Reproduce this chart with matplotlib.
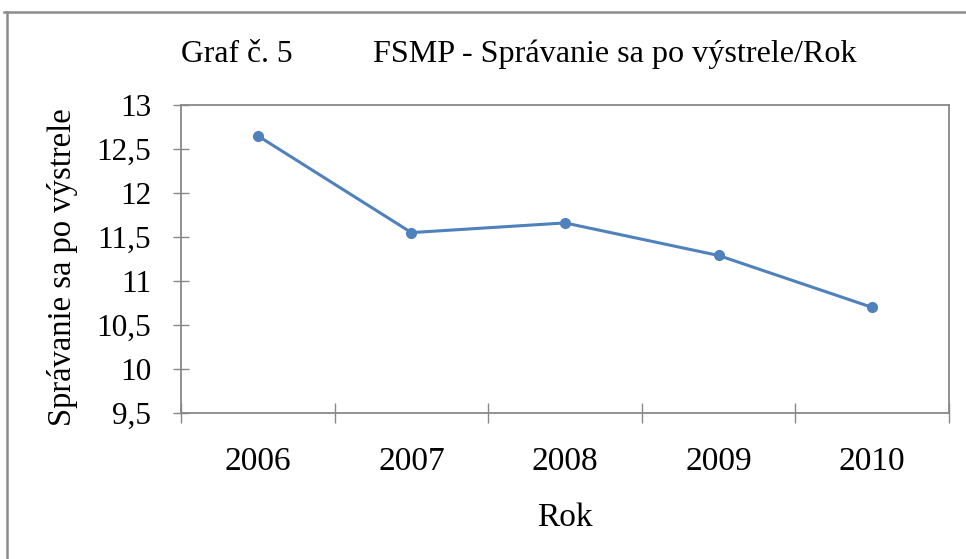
import matplotlib
matplotlib.use("Agg")
import matplotlib.pyplot as plt
from matplotlib.lines import Line2D
from matplotlib.ticker import FixedLocator, FuncFormatter

years = ["2006", "2007", "2008", "2009", "2010"]
values = [12.65, 11.55, 11.66, 11.29, 10.70]
y_ticks = [9.5, 10, 10.5, 11, 11.5, 12, 12.5, 13]

title_left = "Graf č. 5"
title_right = "FSMP - Správanie sa po výstrele/Rok"
x_label = "Rok"
y_label = "Správanie sa po výstrele"

plt.rcParams['font.family'] = ['Liberation Serif', 'DejaVu Serif']

fig = plt.figure(figsize=(9.66, 5.59), dpi=100)
ax = fig.add_axes([181/966, 1-413/559, (949-181)/966, (413-105)/559])

x = list(range(len(years)))
ax.plot(x, values, color="#4F81BD", linewidth=2.2, marker="o", markersize=7,
        markerfacecolor="#4F81BD", markeredgecolor="#4F81BD", clip_on=False)

ax.set_xlim(-0.5, len(years) - 0.5)
ax.set_ylim(9.5, 13)

grey = "#888888"
for s in ax.spines.values():
    s.set_color(grey)
    s.set_linewidth(1.3)

ax.set_yticks(y_ticks)
ax.yaxis.set_major_formatter(FuncFormatter(lambda v, p: (f"{v:g}").replace(".", ",")))
ax.tick_params(axis="y", direction="inout", length=12, width=1.0, color=grey,
               labelsize=22.5, pad=15.5)

ax.set_xticks(x)
ax.set_xticklabels(years)
ax.xaxis.set_minor_locator(FixedLocator([i - 0.5 for i in range(len(years) + 1)]))
ax.tick_params(axis="x", which="major", length=0, labelsize=24, pad=24)
ax.tick_params(axis="x", which="minor", direction="inout", length=14, width=1.0, color=grey)

ax.set_xlabel(x_label, fontsize=24)
ax.xaxis.set_label_coords(0.5, -0.292)
ax.set_ylabel(y_label, fontsize=23.5)
ax.yaxis.set_label_coords(-0.134, 0.472)

fig.text(181/966, 1-62/559, title_left, fontsize=22.8, va="baseline", ha="left")
fig.text(373/966, 1-62/559, title_right, fontsize=23.1, va="baseline", ha="left")

fig.add_artist(Line2D([4/966, 1], [1-12/559, 1-12/559], transform=fig.transFigure,
                      color="#8c8c8c", linewidth=1.8))
fig.add_artist(Line2D([7/966, 7/966], [0, 1-12/559], transform=fig.transFigure,
                      color="#8c8c8c", linewidth=1.8))

fig.savefig("out.png", dpi=100)
